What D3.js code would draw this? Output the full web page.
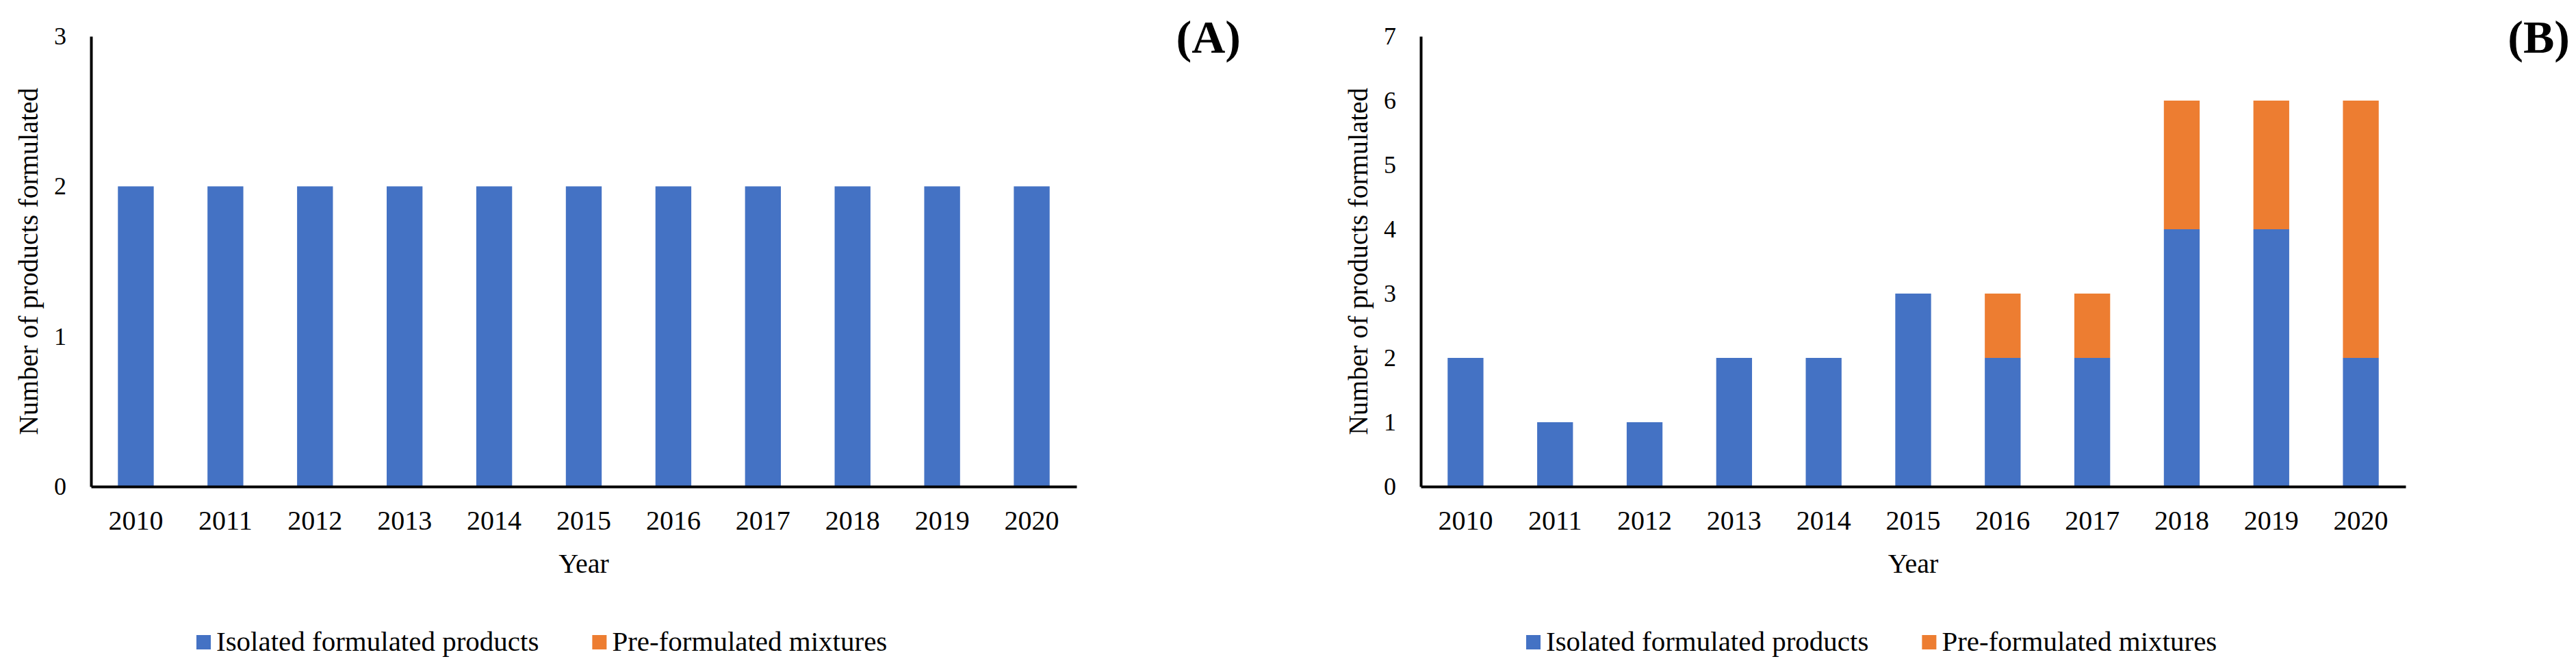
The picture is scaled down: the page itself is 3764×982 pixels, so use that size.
<!DOCTYPE html>
<html>
<head>
<meta charset="utf-8">
<style>
    body { margin: 0; background: #fff; }
    svg { display: block; font-family: "Liberation Serif", "Times New Roman", serif; }
    .axis { font-family: "Liberation Serif", "Times New Roman", serif; }
    .axis .domain { stroke: #000; stroke-width: 4px; }
    .y.axis .tick text { font-size: 36px; fill: #000; }
    .x.axis .tick text { font-size: 40px; fill: #000; }
    .axis-title { font-size: 40px; fill: #000; }
    .legend text { font-size: 41px; fill: #000; }
    .panel-label { font-size: 68px; font-weight: bold; fill: #000; }
</style>
</head>
<body>
<svg width="3764" height="982"></svg>

<script src="https://d3js.org/d3.v7.min.js"></script>
<script>
    // data
    const years = ["2010", "2011", "2012", "2013", "2014", "2015", "2016", "2017", "2018", "2019", "2020"];
    const seriesNames = ["Isolated formulated products", "Pre-formulated mixtures"];
    const seriesColors = ["#4472C4", "#ED7D31"];

    const isolatedA = [2, 2, 2, 2, 2, 2, 2, 2, 2, 2, 2];
    const premixA = [0, 0, 0, 0, 0, 0, 0, 0, 0, 0, 0];
    const yTicksA = [0, 1, 2, 3];

    const isolatedB = [2, 1, 1, 2, 2, 3, 2, 2, 4, 4, 2];
    const premixB = [0, 0, 0, 0, 0, 0, 1, 1, 2, 2, 4];
    const yTicksB = [0, 1, 2, 3, 4, 5, 6, 7];

    const panelLabels = ["(A)", "(B)"];

    let svg = d3.select("svg");

    let plotTop = 53, plotBottom = 711;

    function drawPanel(left, right, isolated, premix, yTicks, label) {
        let rows = years.map((yr, i) => ({ year: yr, iso: isolated[i], pre: premix[i] }));
        let stacked = d3.stack().keys(["iso", "pre"])(rows);

        let x = d3.scaleBand()
            .domain(years)
            .range([left, right])
            .paddingInner(0.6)
            .paddingOuter(0.3);

        let y = d3.scaleLinear()
            .domain([0, d3.max(yTicks)])
            .range([plotBottom, plotTop]);

        let g = svg.append("g");

        // bars
        g.selectAll(".series")
            .data(stacked)
            .join("g")
            .attr("fill", (d, i) => seriesColors[i])
            .selectAll("rect")
            .data(d => d.filter(s => s[1] - s[0] > 0))
            .join("rect")
            .attr("x", d => x(d.data.year))
            .attr("width", x.bandwidth())
            .attr("y", d => y(d[1]))
            .attr("height", d => y(d[0]) - y(d[1]));

        // axes
        g.append("g")
            .attr("class", "y axis")
            .attr("transform", `translate(${left},0)`)
            .call(d3.axisLeft(y).tickValues(yTicks).tickFormat(d3.format("d"))
                .tickSize(0).tickPadding(36))
            .call(a => a.selectAll(".tick line").remove());

        g.append("g")
            .attr("class", "x axis")
            .attr("transform", `translate(0,${plotBottom})`)
            .call(d3.axisBottom(x).tickSize(0).tickPadding(35))
            .call(a => a.selectAll(".tick line").remove());

        // titles
        g.append("text")
            .attr("class", "axis-title")
            .attr("text-anchor", "middle")
            .attr("x", (left + right) / 2)
            .attr("y", 837)
            .text("Year");

        g.append("text")
            .attr("class", "axis-title")
            .attr("text-anchor", "middle")
            .attr("transform", `translate(${left - 78},${(plotTop + plotBottom) / 2}) rotate(-90)`)
            .text("Number of products formulated");

        g.append("text")
            .attr("class", "panel-label")
            .attr("text-anchor", "end")
            .attr("x", right + 240)
            .attr("y", 77)
            .text(label);

        // legend
        let legend = g.append("g").attr("class", "legend");
        let lx = left + 154;
        seriesNames.forEach((name, i) => {
            legend.append("rect")
                .attr("x", lx)
                .attr("y", 928)
                .attr("width", 21)
                .attr("height", 21)
                .attr("fill", seriesColors[i]);
            let t = legend.append("text")
                .attr("x", lx + 29)
                .attr("y", 951)
                .text(name);
            lx = lx + 29 + t.node().getComputedTextLength() + 78;
        });
    }

    drawPanel(133, 1573, isolatedA, premixA, yTicksA, panelLabels[0]);
    drawPanel(2076, 3515, isolatedB, premixB, yTicksB, panelLabels[1]);
</script>
</body>
</html>
